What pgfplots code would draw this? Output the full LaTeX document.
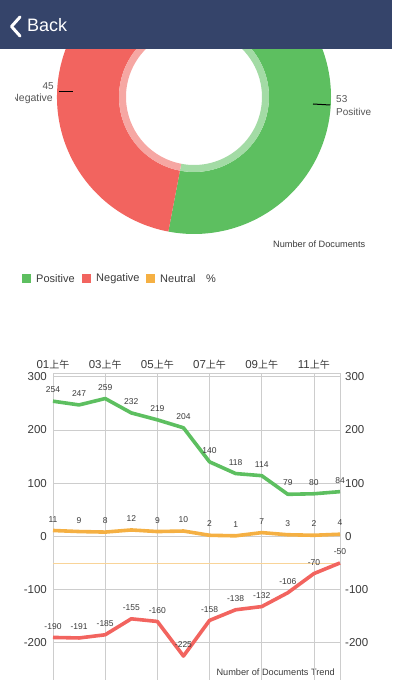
\documentclass[border=0pt]{standalone}
\usepackage{fontspec}
\setmainfont{Liberation Sans}
\newfontfamily\cjk{Noto Sans CJK SC}
\usepackage{pgfplots}
\pgfplotsset{compat=1.18}
\definecolor{navbar}{HTML}{35446A}
\definecolor{pgreen}{HTML}{5DBF60}
\definecolor{pred}{HTML}{F2645F}
\definecolor{porange}{HTML}{F5B043}
\definecolor{lgreen}{HTML}{A3DBA5}
\definecolor{lred}{HTML}{F6A7A3}
\definecolor{gridc}{HTML}{CDCDCD}
\definecolor{txt}{HTML}{3A3A3A}
\definecolor{ltxt}{HTML}{555555}
% donut values
\def\vpos{53}\def\vneg{45}\def\vneu{2}
\pgfmathsetmacro{\vtot}{\vpos+\vneg+\vneu}
\pgfmathsetmacro{\aA}{90}
\pgfmathsetmacro{\aB}{90-\vpos/\vtot*360}
\pgfmathsetmacro{\aC}{\aB-\vneg/\vtot*360}
\pgfmathsetmacro{\aD}{\aC-\vneu/\vtot*360}
\newcommand{\sector}[4]{%
  \fill[#1, shift={(axis cs:194,599)}] (#3:137pt) arc[start angle=#3, end angle=#4, radius=137pt] -- (#4:75pt) arc[start angle=#4, end angle=#3, radius=75pt] -- cycle;
  \fill[#2, shift={(axis cs:194,599)}] (#3:75pt) arc[start angle=#3, end angle=#4, radius=75pt] -- (#4:68pt) arc[start angle=#4, end angle=#3, radius=68pt] -- cycle;}
\newcommand{\am}{{\cjk\fontsize{10}{10}\selectfont 上午}}
\begin{document}
\begin{tikzpicture}
\path[use as bounding box] (0pt,0pt) rectangle (392pt,696pt);
\begin{axis}[name=bg, at={(0pt,0pt)}, anchor=south west, x=1pt, y=1pt, scale only axis,
  xmin=0, xmax=392, ymin=0, ymax=696, hide axis, clip=true]
\sector{pgreen}{lgreen}{\aA}{\aB}
\sector{pred}{lred}{\aB}{\aC}
\sector{porange}{porange!50}{\aC}{\aD}
% donut labels
\draw[black, line width=1pt] (axis cs:59,604) -- (axis cs:73,604);
\draw[black, line width=1pt] (axis cs:313,592) -- (axis cs:330,591);
\node[anchor=east, inner sep=0, text=ltxt, font=\fontsize{10}{10}\selectfont] at (axis cs:54,610) {45};
\begin{scope}
\clip (axis cs:15,580) rectangle (axis cs:60,620);
\node[anchor=east, inner sep=0, text=ltxt, font=\fontsize{10.5}{10.5}\selectfont] at (axis cs:53,597) {Negative};
\end{scope}
\node[anchor=west, inner sep=0, text=ltxt, font=\fontsize{10}{10}\selectfont] at (axis cs:336,597) {53};
\node[anchor=west, inner sep=0, text=ltxt, font=\fontsize{10}{10}\selectfont] at (axis cs:336,584) {Positive};
\node[anchor=west, inner sep=0, text=txt, font=\fontsize{9.2}{9.2}\selectfont] at (axis cs:273,452) {Number of Documents};
% navigation bar
\fill[navbar] (axis cs:0,647) rectangle (axis cs:392,696);
\draw[white, line width=3pt, line cap=round, line join=round] (axis cs:20,679) -- (axis cs:11.5,669.5) -- (axis cs:20,660);
\node[anchor=west, inner sep=0, text=white, font=\fontsize{18}{18}\selectfont] at (axis cs:27,670.5) {Back};
% legend
\fill[pgreen] (axis cs:22,412.5) rectangle (axis cs:31,421.5);
\node[anchor=west, inner sep=0, text=txt, font=\fontsize{11}{11}\selectfont] at (axis cs:36,417) {Positive};
\fill[pred] (axis cs:82,412.5) rectangle (axis cs:91,421.5);
\node[anchor=west, inner sep=0, text=txt, font=\fontsize{11}{11}\selectfont] at (axis cs:96,417) {Negative};
\fill[porange] (axis cs:146,412.5) rectangle (axis cs:155,421.5);
\node[anchor=west, inner sep=0, text=txt, font=\fontsize{11}{11}\selectfont] at (axis cs:160,417) {Neutral};
\node[anchor=west, inner sep=0, text=txt, font=\fontsize{11}{11}\selectfont] at (axis cs:206,417) {\%};
% trend caption
\node[anchor=east, inner sep=0, text=txt, font=\fontsize{9.2}{9.2}\selectfont] at (axis cs:335,24) {Number of Documents Trend};
\end{axis}
% line chart
\begin{axis}[at={(bg.south west)}, anchor=south west, xshift=53pt, yshift=16pt,
  width=287pt, height=307pt, scale only axis,
  xmin=0, xmax=11, ymin=-270, ymax=307,
  axis x line*=top, axis y line*=box,
  axis line style={-, gridc, line width=0.8pt},
  grid=major, grid style={gridc, line width=0.8pt},
  major tick length=0pt,
  xtick={0,2,4,6,8,10},
  xticklabels={01\am,03\am,05\am,07\am,09\am,11\am},
  xticklabel style={inner sep=0pt, yshift=3.5pt, text=txt, font=\fontsize{11.5}{11.5}\selectfont},
  ytick={-200,-100,0,100,200,300},
  yticklabels={-200,-100,0,100,200,300},
  yticklabel style={inner sep=0pt, xshift=-6pt, text=txt, font=\fontsize{11.5}{11.5}\selectfont},
  clip=false,
  nodes near coords, point meta=explicit symbolic,
  every node near coord/.append style={anchor=south, inner sep=0pt, yshift=6.5pt, text=txt, font=\fontsize{8.5}{8.5}\selectfont},
]
\addplot[porange!55, line width=0.6pt, nodes near coords={}] coordinates {(0,-50) (11,-50)};
\addplot[pgreen, line width=3.6pt, line join=round] coordinates {
(0,254) [254] (1,247) [247] (2,259) [259] (3,232) [232] (4,219) [219] (5,204) [204]
(6,140) [140] (7,118) [118] (8,114) [114] (9,79) [79] (10,80) [80] (11,84) [84]};
\addplot[porange, line width=3.6pt, line join=round] coordinates {
(0,11) [11] (1,9) [9] (2,8) [8] (3,12) [12] (4,9) [9] (5,10) [10]
(6,2) [2] (7,1) [1] (8,7) [7] (9,3) [3] (10,2) [2] (11,4) [4]};
\addplot[pred, line width=3.6pt, line join=round] coordinates {
(0,-190) [-190] (1,-191) [-191] (2,-185) [-185] (3,-155) [-155] (4,-160) [-160] (5,-225) [-225]
(6,-158) [-158] (7,-138) [-138] (8,-132) [-132] (9,-106) [-106] (10,-70) [-70] (11,-50) [-50]};
\end{axis}
% right-hand value labels
\begin{axis}[at={(bg.south west)}, anchor=south west, xshift=53pt, yshift=16pt,
  width=287pt, height=307pt, scale only axis,
  xmin=0, xmax=11, ymin=-270, ymax=307,
  hide x axis, axis y line*=right, axis line style={draw=none},
  major tick length=0pt,
  ytick={-200,-100,0,100,200,300},
  yticklabels={-200,-100,0,100,200,300},
  yticklabel style={inner sep=0pt, xshift=5pt, text=txt, font=\fontsize{11.5}{11.5}\selectfont},
]
\addplot[draw=none] coordinates {(0,0) (11,0)};
\end{axis}
\end{tikzpicture}
\end{document}
